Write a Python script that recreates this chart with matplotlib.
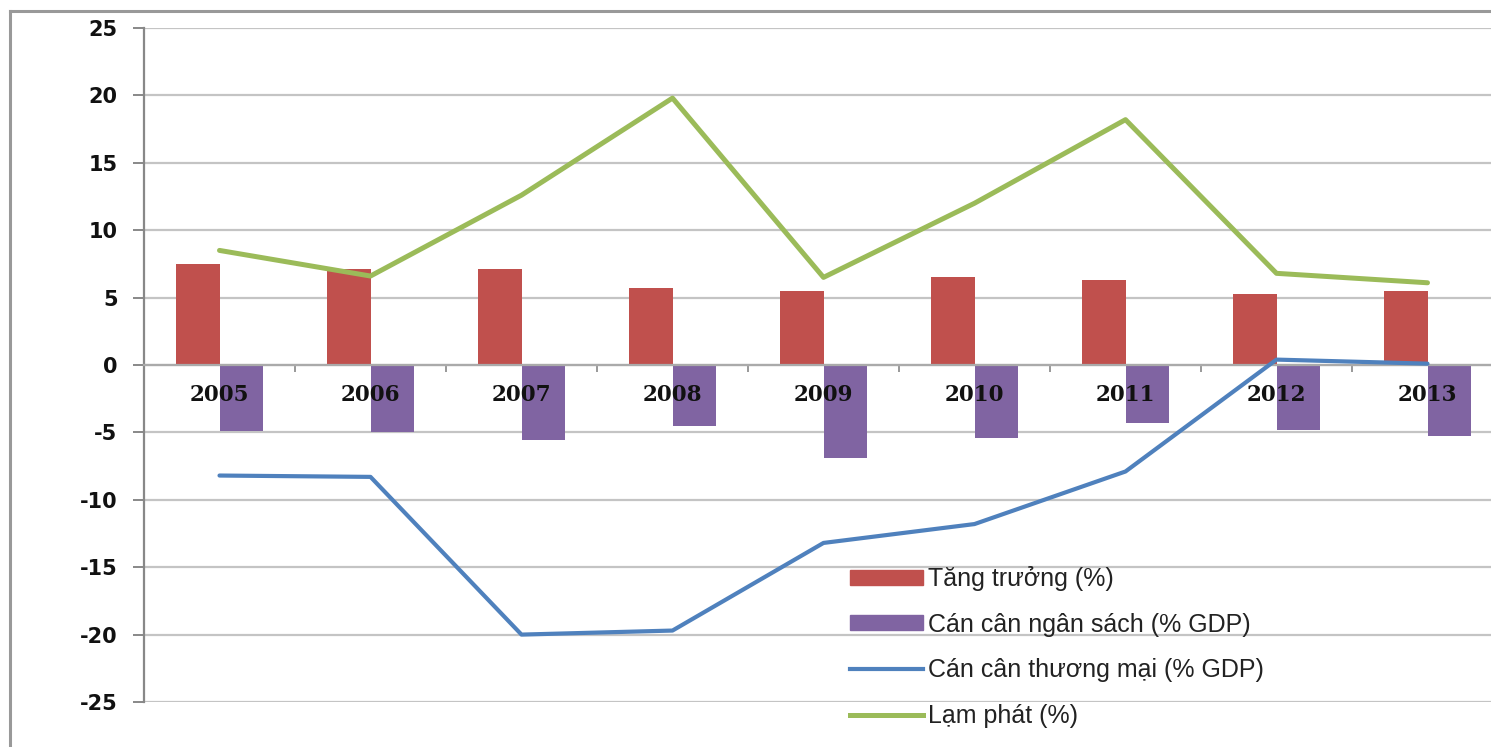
import matplotlib
matplotlib.use("Agg")
from matplotlib import pyplot as plt
from matplotlib.lines import Line2D
from matplotlib.patches import Patch
import numpy as np

plt.rcParams["axes.unicode_minus"] = False

years = ["2005", "2006", "2007", "2008", "2009", "2010", "2011", "2012", "2013"]
tang_truong = [7.5, 7.1, 7.1, 5.7, 5.5, 6.5, 6.3, 5.3, 5.5]
can_can_ngan_sach = [-4.9, -5.0, -5.6, -4.5, -6.9, -5.4, -4.3, -4.8, -5.3]
can_can_thuong_mai = [-8.2, -8.3, -20.0, -19.7, -13.2, -11.8, -7.9, 0.4, 0.1]
lam_phat = [8.5, 6.6, 12.6, 19.8, 6.5, 12.0, 18.2, 6.8, 6.1]
labels = ["Tăng trưởng (%)", "Cán cân ngân sách (% GDP)",
          "Cán cân thương mại (% GDP)", "Lạm phát (%)"]

RED = "#c0504d"
PURPLE = "#8064a2"
BLUE = "#4f81bd"
GREEN = "#9bbb59"

W, H = 1491, 747
fig = plt.figure(figsize=(W / 100, H / 100), dpi=100)
# plot area runs a little past the right edge, as in the picture
ax = fig.add_axes([144 / W, (H - 702) / H, (1503 - 144) / W, (702 - 28) / H])

x = np.arange(len(years))
bw = 0.285
ax.bar(x - bw / 2, tang_truong, bw, color=RED, zorder=2)
ax.bar(x + bw / 2, can_can_ngan_sach, bw, color=PURPLE, zorder=2)
ax.plot(x, can_can_thuong_mai, color=BLUE, lw=3.0, zorder=4, solid_capstyle="round")
ax.plot(x, lam_phat, color=GREEN, lw=3.6, zorder=4, solid_capstyle="round")

ax.set_xlim(-0.5, len(years) - 0.5)
ax.set_ylim(-25, 25)
ax.set_yticks(np.arange(-25, 26, 5))
ax.yaxis.grid(True, color="#c4c4c4", lw=1.6, zorder=0)
ax.tick_params(axis="y", length=8, width=1.4, color="#888888", pad=11,
               labelsize=15)
for t in ax.get_yticklabels():
    t.set_fontweight("bold")
    t.set_color("#111111")

ax.spines["top"].set_visible(False)
ax.spines["right"].set_visible(False)
ax.spines["left"].set_color("#888888")
ax.spines["left"].set_linewidth(1.6)
ax.spines["bottom"].set_position(("data", 0))
ax.spines["bottom"].set_color("#aaaaaa")
ax.spines["bottom"].set_linewidth(1.6)

# category labels sit on top of the bars, so draw them as texts
ax.set_xticks([])
ax.set_xticks(np.arange(0.5, len(years) - 0.5, 1), minor=True)
ax.tick_params(axis="x", which="minor", length=5, width=1.2, color="#888888",
               direction="out")
for xi, yr in zip(x, years):
    ax.text(xi, -2.2, yr, ha="center", va="center", fontsize=15.5,
            fontweight="bold", family="DejaVu Serif", color="#111111", zorder=3)

handles = [Patch(color=RED), Patch(color=PURPLE),
           Line2D([], [], color=BLUE, lw=3.0), Line2D([], [], color=GREEN, lw=3.6)]
leg = ax.legend(handles, labels, loc="upper left", frameon=False,
                bbox_to_anchor=(840 / W, (H - 556) / H), bbox_transform=fig.transFigure,
                prop={"family": "Liberation Sans", "size": 18},
                handlelength=2.9, handleheight=0.55, handletextpad=0.2,
                labelspacing=0.87, borderaxespad=0)
leg.set_zorder(5)
for t in leg.get_texts():
    t.set_color("#222222")

# outer chart border (top and left visible)
fig.add_artist(Line2D([10 / W, 10 / W], [0, (H - 11) / H], color="#999999",
                      lw=2.2, transform=fig.transFigure))
fig.add_artist(Line2D([10 / W, 1], [(H - 11) / H, (H - 11) / H], color="#999999",
                      lw=2.2, transform=fig.transFigure))

fig.savefig("out.png", dpi=100)
